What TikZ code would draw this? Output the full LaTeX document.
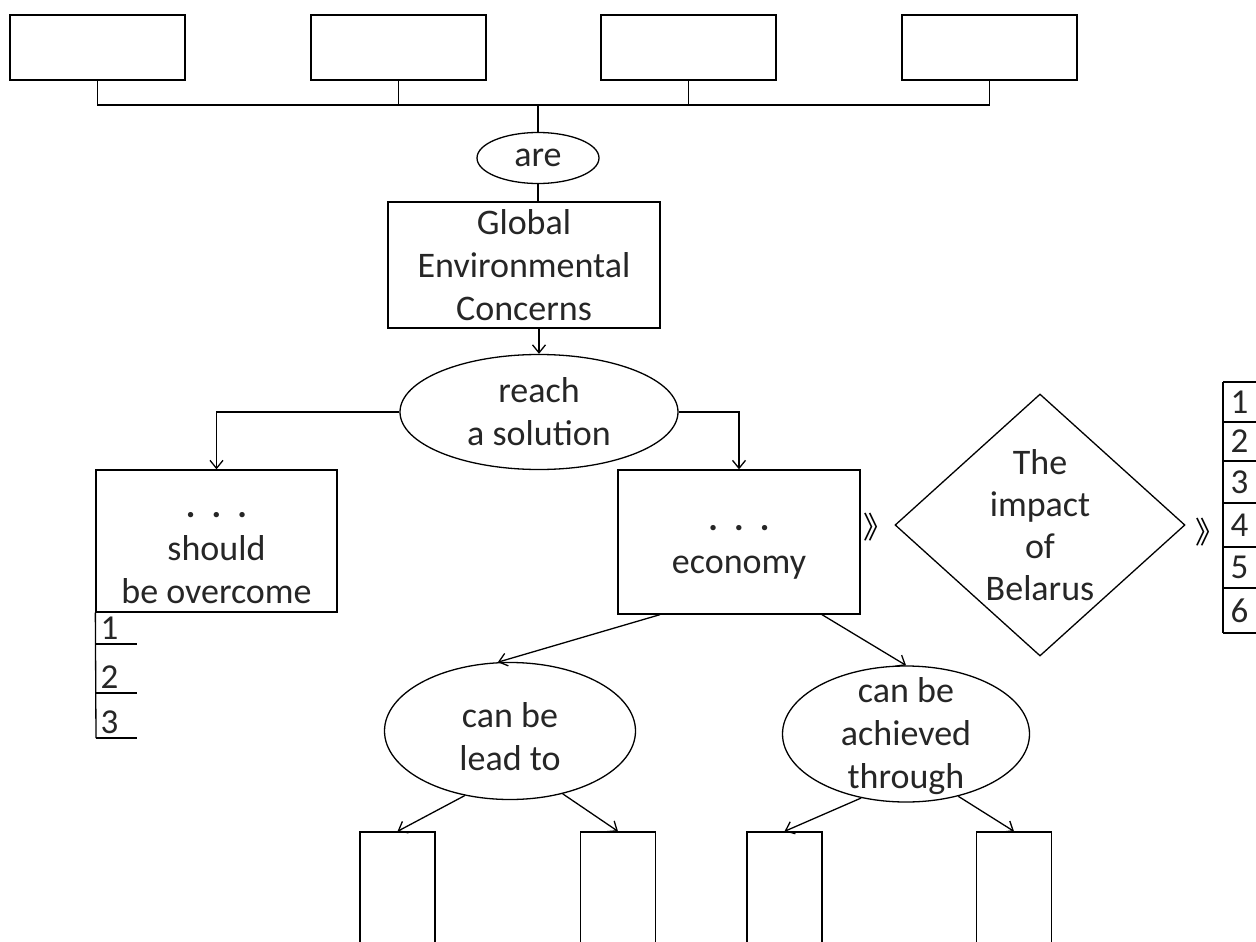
\documentclass[tikz,border=0pt]{standalone}
\usepackage{fontspec}
\setmainfont{Carlito}
\newfontfamily\cjkfont{Noto Sans CJK SC}
\usetikzlibrary{shapes.geometric,arrows.meta}
\newcommand{\dotrow}{{\bfseries .\hspace{0.45em}.\hspace{0.45em}.}}

\begin{document}
\begin{tikzpicture}[x=1pt, y=-1pt, line width=1.3pt,
		>={Straight Barb[length=8pt,width=13pt]},
		box/.style={draw, rectangle, inner sep=0pt, align=center, text=black!85, font=\fontsize{36}{43}\selectfont},
		oval/.style={draw, ellipse, inner sep=0pt, align=center, text=black!85, font=\fontsize{36}{43}\selectfont},
		inlabel/.style={align=center, text=black!85, font=\fontsize{36}{43}\selectfont},
		num/.style={font=\fontsize{35}{36}\selectfont, text=black!85, inner sep=0pt},
		chev/.style={font=\cjkfont\fontsize{30}{30}\selectfont, inner sep=0pt}]
		\useasboundingbox (0,0) rectangle (1256,942);
		\clip (0,0) rectangle (1256,942);
		% top row
		\node[box, minimum width=175, minimum height=65] (top1) at (97.5,47.5) {};
		\node[box, minimum width=175, minimum height=65] (top2) at (398.5,47.5) {};
		\node[box, minimum width=175, minimum height=65] (top3) at (688.5,47.5) {};
		\node[box, minimum width=175, minimum height=65] (top4) at (989.5,47.5) {};
		\coordinate (bus) at (538,105);
		\draw (top1.south) |- (bus) -| (top4.south);
		\draw (top2.south) -- (top2.south |- bus);
		\draw (top3.south) -- (top3.south |- bus);
		\node[oval, minimum width=122, minimum height=51] (are) at (538,158) {are};
		\draw (bus) -- (are.north);
		\node[box, minimum width=272, minimum height=126] (gec) at (524,265) {Global\\Environmental\\Concerns};
		\draw (are.south) -- (are.south |- gec.north);
		\node[oval, minimum width=278, minimum height=115] (reach) at (539,412) {reach\\a solution};
		\draw[->] (reach.north |- gec.south) -- (reach.north);
		% left branch
		\node[box, minimum width=241, minimum height=142,
			label={[inlabel, yshift=-17pt]center:\dotrow\\should\\be overcome}] (should) at (216.5,541) {};
		\draw[->] (reach.west) -| (should.north);
		\draw (should.south west) -- (96,738);
		\foreach \y/\n in {644/1,693/2,738/3} {
			\draw (96,\y) -- (137,\y);
			\node[num, anchor=base west] (l\n) at (100,\y-5) {\n};
		}
		% right branch
		\node[box, minimum width=242, minimum height=144,
			label={[inlabel, yshift=-10pt]center:\dotrow\\economy}] (econ) at (739,542) {};
		\draw[->] (reach.east) -| (econ.north);
		\node[chev] (ch1) at (878,527) {》};
		\node[diamond, draw, minimum width=290, minimum height=262, inner sep=0pt] (impact) at (1040,525) {};
		\node[inlabel, font=\fontsize{36}{42}\selectfont] (imptxt) at (impact.center) {The\\impact\\of\\Belarus};
		\node[chev] (ch2) at (1210,532) {》};
		\draw (1223,382) -- (1223,633);
		\foreach \y in {382,422,461,503,547,588,633}
			\draw (1223,\y) -- (1270,\y);
		\foreach \n/\y in {1/402,2/441.5,3/482,4/525,5/567.5,6/610.5}
			\node[num, anchor=west] (r\n) at (1230,\y) {\n};
		% lower level
		\node[oval, minimum width=251, minimum height=137,
			label={[inlabel, yshift=-6pt]center:can be\\lead to}] (lead) at (510,731) {};
		\node[oval, minimum width=247, minimum height=136,
			label={[inlabel, yshift=-2pt]center:can be\\achieved\\through}] (achv) at (906,734) {};
		\draw[->] ([xshift=-79]econ.south) -- (lead.100);
		\draw[->] ([xshift=83]econ.south) -- (achv.north);
		\node[box, minimum width=75, minimum height=130] (low1) at (397.5,897) {};
		\node[box, minimum width=75, minimum height=130] (low2) at (618,897) {};
		\node[box, minimum width=75, minimum height=130] (low3) at (784.5,897) {};
		\node[box, minimum width=75, minimum height=130] (low4) at (1014,897) {};
		\draw[->] (lead.-125) -- (low1.north);
		\draw[->] (lead.-50) -- (low2.north);
		\draw[->] (achv.-125) -- (low3.north);
		\draw[->] (achv.-50) -- (low4.north);
	\end{tikzpicture}
\end{document}
